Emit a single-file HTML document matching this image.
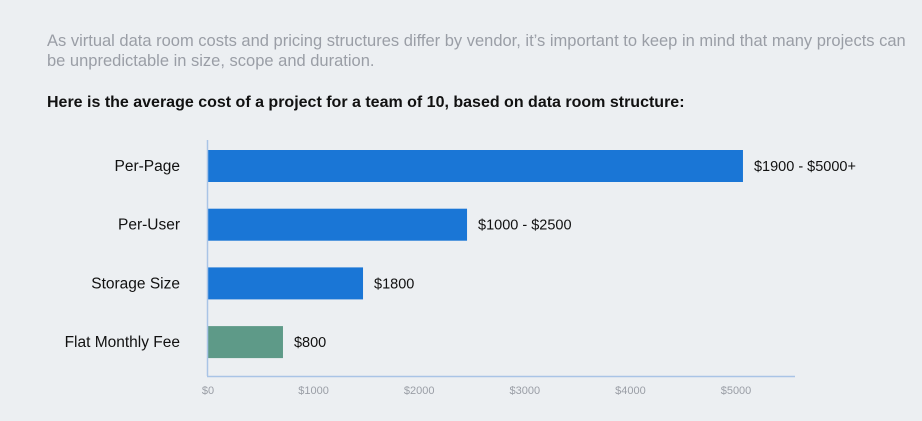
<!DOCTYPE html>
<html><head><meta charset="utf-8"><style>
html,body{margin:0;padding:0;background:#eceff2;width:922px;height:421px;overflow:hidden;font-family:"Liberation Sans",sans-serif;}
.intro{position:absolute;left:47px;top:31px;width:860px;font-size:16.5px;line-height:20px;color:#9a9ea6;}
.head{position:absolute;left:47px;top:94px;font-size:16px;font-weight:bold;color:#111;}
</style></head><body>
<div class="intro">As virtual data room costs and pricing structures differ by vendor, it’s important to keep in mind that many projects can be unpredictable in size, scope and duration.</div>
<div class="head">Here is the average cost of a project for a team of 10, based on data room structure:</div>
<svg id="chart" width="922" height="421" style="position:absolute;left:0;top:0"></svg>
<script>
const categories=["Per-Page","Per-User","Storage Size","Flat Monthly Fee"];
const values=[5066,2453,1468,710];
const valueLabels=["$1900 - $5000+","$1000 - $2500","$1800","$800"];
const colors=["#1a76d6","#1a76d6","#1a76d6","#5e9a88"];
const ticks=[0,1000,2000,3000,4000,5000];
const tickLabels=["$0","$1000","$2000","$3000","$4000","$5000"];
const svg=document.getElementById('chart');
const NS='http://www.w3.org/2000/svg';
const x0=208, scale=0.1056;
const xs=v=>x0+v*scale;
const rowTop=150, rowStep=58.7, barH=32;
function mk(t,a){const e=document.createElementNS(NS,t);for(const k in a)e.setAttribute(k,a[k]);svg.appendChild(e);return e;}
categories.forEach((c,i)=>{
  const y=rowTop+i*rowStep;
  const r=mk('rect',{x:x0,y:y,width:xs(values[i])-x0,height:barH,fill:colors[i]});
  
  
  const l=mk('text',{x:180,y:y+barH/2+5,'text-anchor':'end','font-size':'15.5',fill:'#111'});
  l.textContent=c;
  
  
  const v=mk('text',{x:xs(values[i])+11,y:y+barH/2+5,'font-size':'14.5',fill:'#111'});
  v.textContent=valueLabels[i];
  
  
});
const ya=mk('line',{x1:207.5,y1:140,x2:207.5,y2:376,stroke:'#a9c4e6','stroke-width':1.5});


const xa=mk('line',{x1:207,y1:376.5,x2:795,y2:376.5,stroke:'#a9c4e6','stroke-width':1.5});


ticks.forEach((t,i)=>{
  const tx=mk('text',{x:xs(t),y:394,'text-anchor':'middle','font-size':'11',fill:'#9a9ea6'});
  tx.textContent=tickLabels[i];
  
  
});
</script>
</body></html>
